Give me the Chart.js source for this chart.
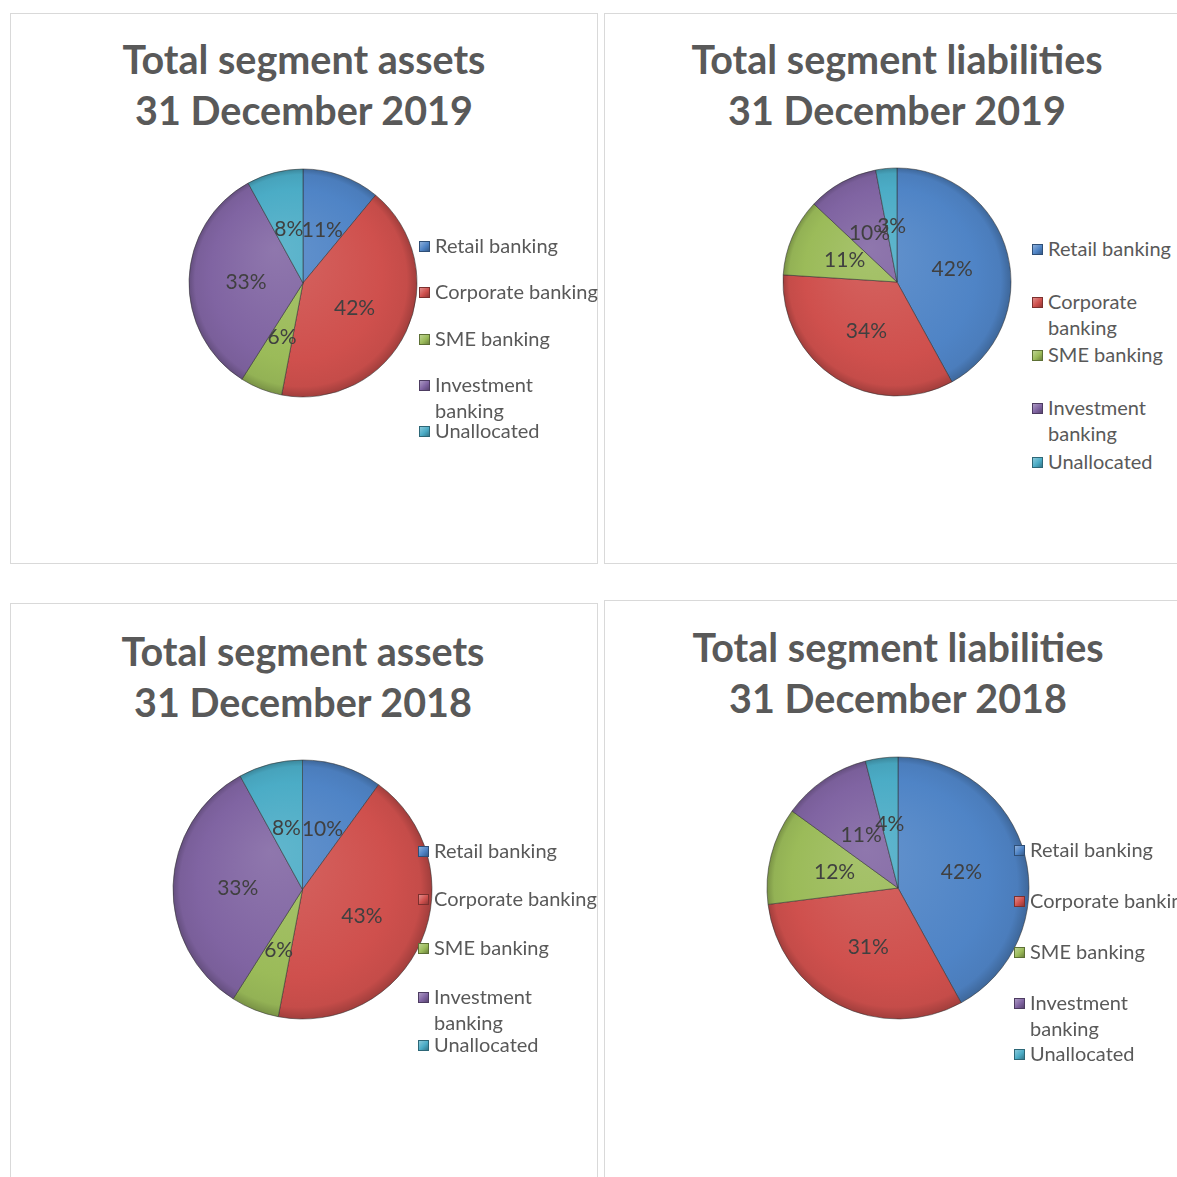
<!DOCTYPE html>
<html>
<head>
<meta charset="utf-8">
<script src="https://cdn.jsdelivr.net/npm/chart.js@4.4.1/dist/chart.umd.min.js"></script>
<style>
  html, body { margin:0; padding:0; background:#fff; }
  body { width:1177px; height:1177px; position:relative; overflow:hidden; font-family:Lato, "Open Sans", sans-serif; }
  .panel { position:absolute; border:1.5px solid #d9d9d9; box-sizing:border-box; background:#fff; }
  .title { position:absolute; width:600px; text-align:center; font:bold 39.5px Lato, sans-serif; line-height:51px; color:#595959; white-space:nowrap; }
  .pie { position:absolute; }
  .leg { position:absolute; font:20px Lato, sans-serif; line-height:26px; color:#595959; white-space:nowrap; }
  .leg .mk { position:absolute; left:0; top:8px; width:11px; height:11px; box-sizing:border-box; }
  .leg .tx { position:absolute; left:16px; top:-1px; }
</style>
</head>
<body>
<script>
// ---- data ----
const categories = ['Retail banking', 'Corporate banking', 'SME banking', 'Investment banking', 'Unallocated'];
const assets2019 = [11, 42, 6, 33, 8];
const liabilities2019 = [42, 34, 11, 10, 3];
const assets2018 = [10, 43, 6, 33, 8];
const liabilities2018 = [42, 31, 12, 11, 4];
const titleAssets2019 = ['Total segment assets', '31 December 2019'];
const titleLiab2019 = ['Total segment liabilities', '31 December 2019'];
const titleAssets2018 = ['Total segment assets', '31 December 2018'];
const titleLiab2018 = ['Total segment liabilities', '31 December 2018'];

// ---- styles / layout ----
const sliceColors = ['#4f84c6', '#cf504d', '#9bbb59', '#8064a2', '#4bacc6'];

const panels = [
  { data: assets2019, title: titleAssets2019, box: [10, 13, 588, 551], titleX: 304, titleY: 58.5,
    cx: 302.5, cy: 283, r: 114, legX: 419, legY: [246, 292, 339, 385, 431], wrap: [3] },
  { data: liabilities2019, title: titleLiab2019, box: [604, 13, 620, 551], titleX: 897, titleY: 58.5,
    cx: 896.5, cy: 282, r: 114, legX: 1032, legY: [249, 302, 355, 408, 462], wrap: [1, 3] },
  { data: assets2018, title: titleAssets2018, box: [10, 603, 588, 620], titleX: 303, titleY: 650.5,
    cx: 302.5, cy: 889, r: 129.5, legX: 418, legY: [851, 899, 948, 997, 1045], wrap: [3] },
  { data: liabilities2018, title: titleLiab2018, box: [604, 600, 620, 620], titleX: 898, titleY: 646.5,
    cx: 898, cy: 887.5, r: 131, legX: 1014, legY: [850, 901, 952, 1003, 1054], wrap: [3] }
];

function mix(hex, target, t) {
  const n = parseInt(hex.slice(1), 16);
  const r = (n >> 16) & 255, g = (n >> 8) & 255, b = n & 255;
  const m = c => Math.round(c + (target - c) * t);
  return `rgb(${m(r)},${m(g)},${m(b)})`;
}

const pctLabels = {
  id: 'pctLabels',
  afterDatasetsDraw(chart) {
    const ctx = chart.ctx;
    const ds = chart.data.datasets[0];
    const total = ds.data.reduce((a, b) => a + b, 0);
    const meta = chart.getDatasetMeta(0);
    ctx.save();
    ctx.font = '21px Lato, sans-serif';
    ctx.fillStyle = '#404040';
    ctx.textAlign = 'center';
    ctx.textBaseline = 'middle';
    meta.data.forEach((arc, i) => {
      const p = arc.tooltipPosition();
      ctx.fillText(Math.round(ds.data[i] / total * 100) + '%', p.x, p.y + 1);
    });
    ctx.restore();
  }
};

panels.forEach(p => {
  const panel = document.createElement('div');
  panel.className = 'panel';
  Object.assign(panel.style, { left: p.box[0] + 'px', top: p.box[1] + 'px', width: p.box[2] + 'px', height: p.box[3] + 'px' });
  document.body.appendChild(panel);

  const t = document.createElement('div');
  t.className = 'title';
  t.style.left = (p.titleX - 300) + 'px';
  t.style.top = (p.titleY - 25.5) + 'px';
  t.innerHTML = p.title.join('<br>');
  document.body.appendChild(t);

  const size = Math.ceil(2 * p.r + 12);
  const wrap = document.createElement('div');
  wrap.className = 'pie';
  Object.assign(wrap.style, { left: (p.cx - size / 2) + 'px', top: (p.cy - size / 2) + 'px', width: size + 'px', height: size + 'px' });
  const cv = document.createElement('canvas');
  wrap.appendChild(cv);
  document.body.appendChild(wrap);

  new Chart(cv, {
    type: 'pie',
    data: {
      labels: categories,
      datasets: [{
        data: p.data,
        backgroundColor: (c) => {
          const base = sliceColors[c.dataIndex % sliceColors.length];
          const ch = c.chart;
          if (!ch.chartArea) return base;
          const { left, right, top, bottom } = ch.chartArea;
          const x = (left + right) / 2, y = (top + bottom) / 2;
          const g = ch.ctx.createRadialGradient(x - p.r * 0.25, y - p.r * 0.3, 0, x, y, p.r);
          g.addColorStop(0, mix(base, 255, 0.12));
          g.addColorStop(0.75, base);
          g.addColorStop(0.93, mix(base, 0, 0.05));
          g.addColorStop(1, mix(base, 0, 0.22));
          return g;
        },
        borderColor: 'rgba(50,50,50,0.55)',
        borderWidth: 1
      }]
    },
    options: {
      responsive: true,
      maintainAspectRatio: false,
      animation: false,
      radius: p.r,
      layout: { padding: 0 },
      plugins: { legend: { display: false }, tooltip: { enabled: false }, title: { display: false } }
    },
    plugins: [pctLabels]
  });

  categories.forEach((name, i) => {
    const it = document.createElement('div');
    it.className = 'leg';
    it.style.left = p.legX + 'px';
    it.style.top = (p.legY[i] - 13) + 'px';
    const base = sliceColors[i];
    const mk = document.createElement('div');
    mk.className = 'mk';
    mk.style.background = `linear-gradient(135deg, ${mix(base, 255, 0.35)}, ${base} 55%, ${mix(base, 0, 0.3)})`;
    mk.style.border = `1px solid ${mix(base, 0, 0.4)}`;
    const tx = document.createElement('div');
    tx.className = 'tx';
    let label = name;
    if (p.wrap.includes(i)) {
      const k = label.lastIndexOf(' ');
      label = label.slice(0, k) + '<br>' + label.slice(k + 1);
    }
    tx.innerHTML = label;
    it.appendChild(mk);
    it.appendChild(tx);
    document.body.appendChild(it);
  });
});
</script>
</body>
</html>
